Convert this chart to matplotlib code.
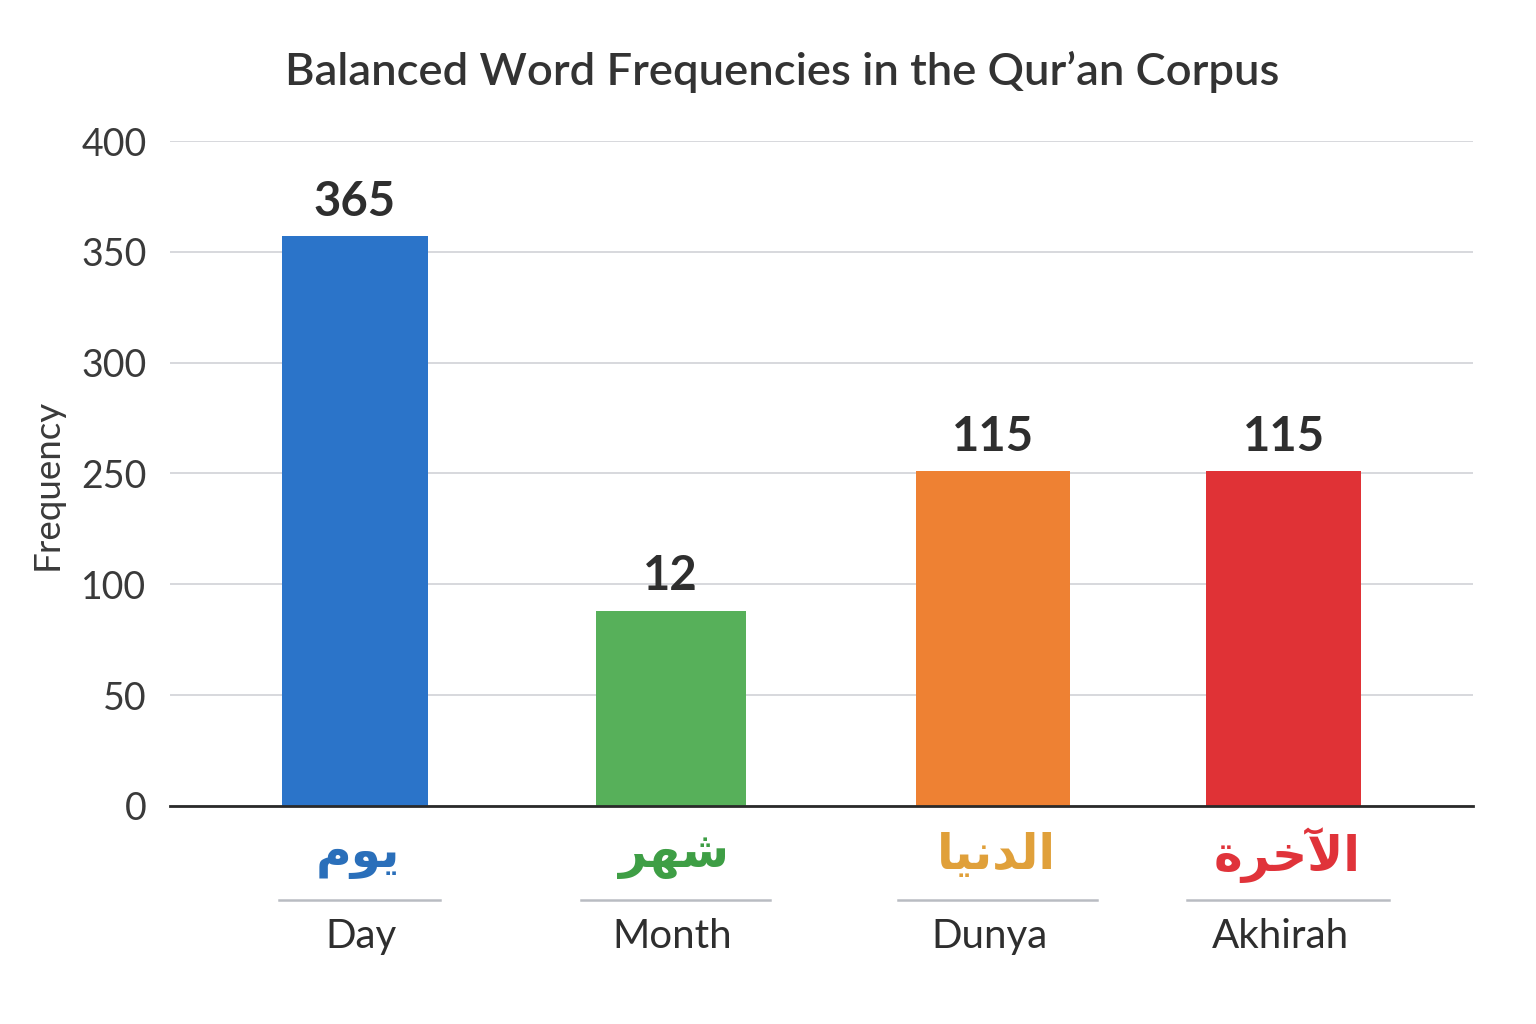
import numpy as np
import matplotlib
matplotlib.use("Agg")
import matplotlib.pyplot as plt
from matplotlib import transforms

# data
words_en = ["Day", "Month", "Dunya", "Akhirah"]
# Arabic words, pre-shaped (presentation forms, visual order) since matplotlib does no shaping
words_ar = ["\uFEE1\uFEEE\uFEF3",                          # يوم
            "\uFEAE\uFEEC\uFEB7",                          # شهر
            "\uFE8E\uFEF4\uFEE7\uFEAA\uFEDF\uFE8D",        # الدنيا
            "\uFE93\uFEAE\uFEA7\uFEF5\uFE8D"]              # الآخرة
bar_heights = [357, 88, 251, 251]      # where the bar tops sit on the drawn axis
bar_labels = ["365", "12", "115", "115"]
tick_values = [0, 50, 100, 250, 300, 350, 400]

# styling
x_pos = [0, 1.0, 2.02, 2.94]
bar_widths = [0.46, 0.475, 0.49, 0.49]
line_widths = [0.51, 0.60, 0.63, 0.64]
text_shift = [0.02, 0.005, -0.01, -0.01]
bar_colors = ["#2b74c9", "#57b05a", "#ee8133", "#e03236"]
ar_colors = ["#2a6fba", "#3e9e45", "#e0a03a", "#e0333a"]
dark = "#2e2e2e"

plt.rcParams['font.family'] = ['Lato', 'DejaVu Sans']


# the axis is evenly spaced by tick index, not by value
def fwd(v):
    return np.interp(v, tick_values, np.arange(len(tick_values)))


def inv(p):
    return np.interp(p, np.arange(len(tick_values)), tick_values)


fig = plt.figure(figsize=(15.36, 10.24), dpi=100)
ax = fig.add_axes([0.1107, 0.2129, 0.848, 0.6494])
ax.set_yscale('function', functions=(fwd, inv))
ax.set_ylim(0, 400)
ax.set_xlim(-0.585, 3.538)

ax.bar(x_pos, bar_heights, width=bar_widths, color=bar_colors, zorder=3)

for x, h, lab in zip(x_pos, bar_heights, bar_labels):
    ax.annotate(lab, (x, h), xytext=(0, 9), textcoords='offset points',
                ha='center', va='bottom', fontsize=34, fontweight='bold',
                color=dark)

ax.set_yticks(tick_values)
ax.set_yticklabels([str(t) for t in tick_values], fontsize=27, color="#3a3a3a")
ax.tick_params(axis='y', length=0, pad=17)
ax.set_xticks([])
ax.grid(axis='y', color="#d4d6da", linewidth=1.3, zorder=0)
for s in ['top', 'right', 'left']:
    ax.spines[s].set_visible(False)
ax.spines['bottom'].set_color("#2a2a2a")
ax.spines['bottom'].set_linewidth(2)
ax.spines['bottom'].set_zorder(4)

ax.set_ylabel("Frequency", fontsize=26.5, color="#3a3a3a")
ax.yaxis.set_label_coords(-0.082, 0.483)

# category labels below the axis
trans = transforms.blended_transform_factory(ax.transData, ax.transAxes)
for x, ar, en, c, lw, dx in zip(x_pos, words_ar, words_en, ar_colors,
                                line_widths, text_shift):
    ax.text(x + 0.01, -0.074, ar, transform=trans, ha='center', va='center',
            fontsize=35, fontweight='bold', color=c, family='DejaVu Sans')
    ax.plot([x + 0.015 - lw / 2, x + 0.015 + lw / 2], [-0.1414, -0.1414],
            transform=trans, color="#b9bcc2", linewidth=1.8, clip_on=False)
    ax.text(x + dx, -0.197, en, transform=trans, ha='center', va='center',
            fontsize=29, color=dark)

fig.text(0.509, 0.93, "Balanced Word Frequencies in the Qur\u2019an Corpus",
         ha='center', va='center', fontsize=32.7, fontweight='semibold',
         color="#333333")

fig.savefig("out.png", dpi=100, facecolor="white")
